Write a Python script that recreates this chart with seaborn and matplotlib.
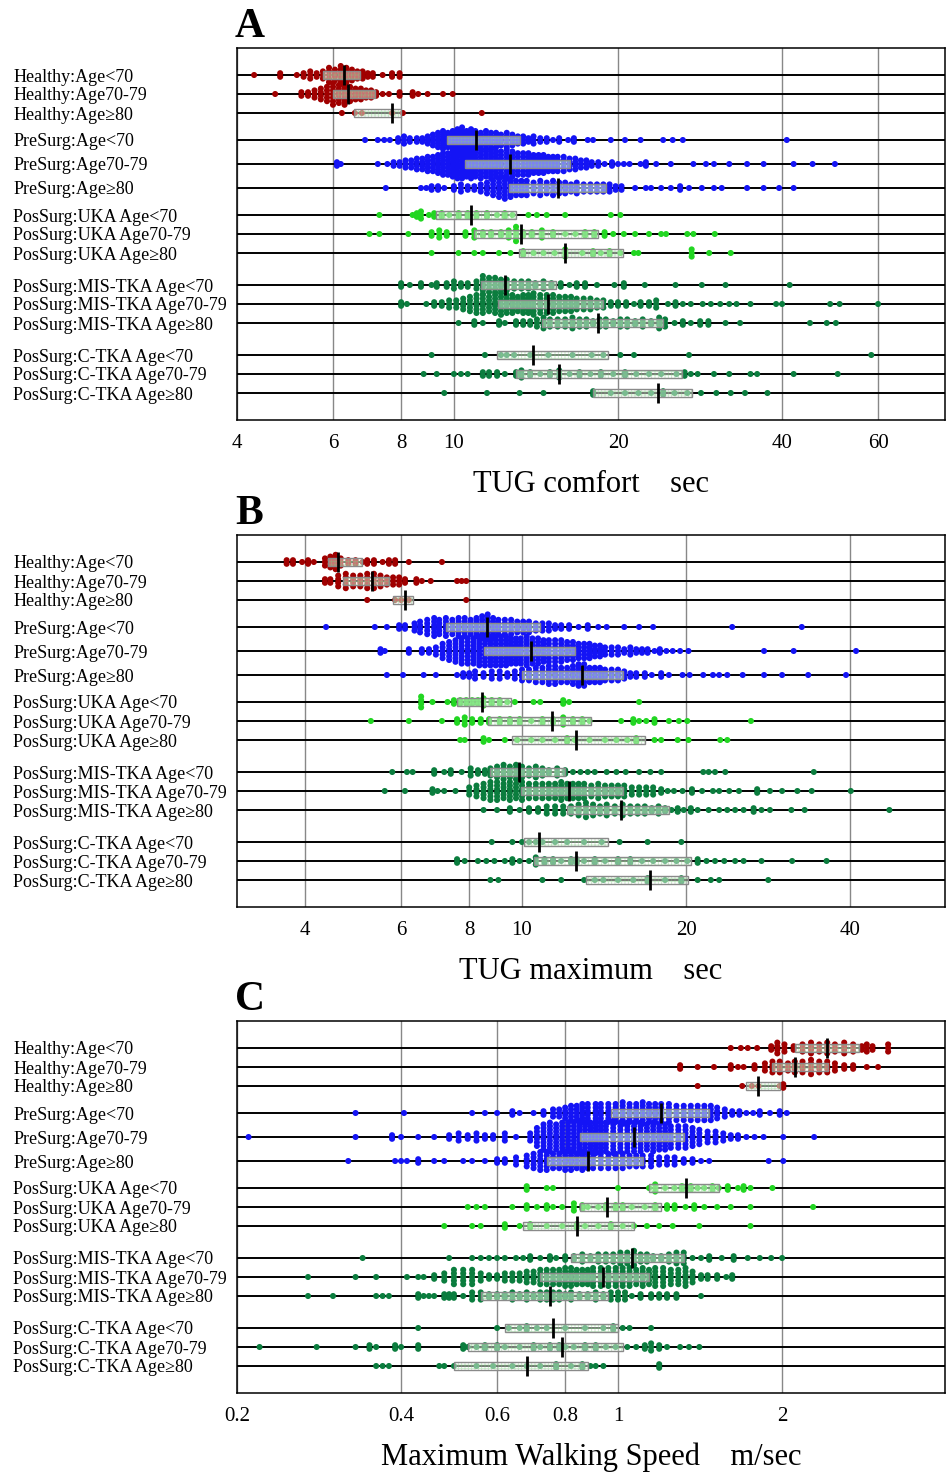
import numpy as np
import pandas as pd
import matplotlib
matplotlib.use("Agg")
import matplotlib.pyplot as plt
import seaborn as sns
from matplotlib.ticker import FixedLocator, FixedFormatter, NullLocator

ROW_LABELS = [
    "Healthy:Age<70", "Healthy:Age70-79", "Healthy:Age\u226580",
    "PreSurg:Age<70", "PreSurg:Age70-79", "PreSurg:Age\u226580",
    "PosSurg:UKA Age<70", "PosSurg:UKA Age70-79", "PosSurg:UKA Age\u226580",
    "PosSurg:MIS-TKA Age<70", "PosSurg:MIS-TKA Age70-79", "PosSurg:MIS-TKA Age\u226580",
    "PosSurg:C-TKA Age<70", "PosSurg:C-TKA Age70-79", "PosSurg:C-TKA Age\u226580",
]
ROW_GROUP = ["Healthy"] * 3 + ["PreSurg"] * 3 + ["UKA"] * 3 + ["MIS"] * 3 + ["CTKA"] * 3

# (value, number of subjects at that value) per row
TUG_COMFORT = [
    [(4.3, 1), (4.8, 2), (5.15, 1), (5.3, 2), (5.45, 3), (5.6, 2), (5.75, 3), (5.9, 5), (6.05, 4), (6.2, 6),
     (6.35, 5), (6.5, 4), (6.65, 3), (6.8, 3), (6.95, 2), (7.1, 2), (7.4, 1), (7.7, 2), (7.95, 2)],
    [(4.7, 1), (5.25, 2), (5.4, 2), (5.55, 3), (5.7, 4), (5.85, 5), (6.0, 7), (6.15, 6), (6.3, 7), (6.45, 5),
     (6.6, 4), (6.75, 4), (6.9, 3), (7.05, 3), (7.2, 2), (7.4, 1), (7.6, 1), (7.95, 2), (8.4, 2), (8.6, 1),
     (8.95, 1), (9.55, 1), (9.95, 1)],
    [(6.23, 1), (6.58, 1), (6.78, 1), (7.7, 1), (8.06, 1), (11.25, 1)],
    [(6.87, 1), (7.25, 1), (7.45, 1), (7.63, 1), (7.9, 2), (8.1, 3), (8.3, 2), (8.55, 2), (8.75, 2), (8.95, 3),
     (9.15, 4), (9.35, 5), (9.55, 6), (9.75, 5), (9.95, 6), (10.15, 7), (10.35, 8), (10.55, 6), (10.75, 7),
     (10.95, 6), (11.2, 5), (11.45, 6), (11.7, 5), (11.95, 5), (12.2, 4), (12.5, 5), (12.8, 4), (13.1, 3),
     (13.4, 3), (13.7, 2), (14.0, 3), (14.4, 2), (14.8, 2), (15.2, 1), (15.6, 2), (16.2, 1), (16.6, 2),
     (17.6, 1), (18.0, 1), (19.4, 1), (20.6, 1), (22.0, 1), (24.2, 1), (25.2, 1), (26.3, 1), (40.8, 1)],
    [(6.1, 2), (6.2, 1), (7.25, 1), (7.55, 1), (7.75, 2), (7.95, 2), (8.15, 3), (8.35, 3), (8.55, 4), (8.75, 4),
     (8.95, 5), (9.15, 5), (9.35, 6), (9.55, 7), (9.75, 7), (9.95, 8), (10.15, 9), (10.35, 9), (10.55, 8),
     (10.75, 9), (10.95, 8), (11.2, 9), (11.45, 8), (11.7, 9), (11.95, 8), (12.2, 8), (12.5, 9), (12.8, 8),
     (13.1, 7), (13.4, 7), (13.7, 7), (14.0, 6), (14.3, 6), (14.6, 6), (14.9, 5), (15.2, 5), (15.5, 5),
     (15.9, 5), (16.3, 4), (16.7, 4), (17.1, 3), (17.5, 3), (17.9, 2), (18.4, 2), (18.9, 1), (19.5, 2),
     (20.0, 1), (20.5, 1), (21.0, 1), (22.0, 1), (22.5, 2), (23.5, 1), (25.0, 1), (27.5, 1), (29.0, 1),
     (30.0, 1), (32.0, 1), (34.5, 1), (37.0, 1), (42.0, 1), (45.5, 1), (50.0, 1)],
    [(7.5, 1), (8.7, 1), (8.9, 1), (9.1, 2), (9.35, 2), (9.6, 1), (10.0, 2), (10.3, 3), (10.6, 2), (10.9, 2),
     (11.2, 3), (11.5, 4), (11.8, 5), (12.1, 6), (12.4, 7), (12.7, 6), (13.0, 5), (13.3, 5), (13.6, 5),
     (14.0, 4), (14.4, 5), (14.8, 4), (15.2, 5), (15.6, 4), (16.0, 4), (16.4, 3), (16.8, 4), (17.3, 3),
     (17.8, 3), (18.3, 3), (18.8, 3), (19.3, 3), (19.8, 2), (20.3, 2), (21.5, 1), (22.5, 1), (23.0, 1),
     (24.0, 1), (25.0, 1), (26.0, 2), (27.0, 1), (28.5, 1), (30.0, 1), (31.0, 1), (34.5, 1), (37.0, 1),
     (39.5, 1), (42.0, 1)],
    [(7.3, 1), (8.4, 1), (8.55, 2), (8.7, 3), (9.0, 1), (9.2, 2), (9.5, 2), (9.8, 1), (10.2, 2), (10.6, 2),
     (11.0, 2), (11.5, 2), (12.0, 1), (12.4, 2), (12.8, 1), (13.7, 1), (14.2, 1), (14.8, 1), (16.0, 1),
     (19.4, 1), (20.2, 1)],
    [(7.0, 1), (7.3, 1), (8.25, 1), (9.1, 2), (9.4, 3), (9.7, 2), (10.5, 2), (10.9, 3), (11.3, 2), (11.7, 2),
     (12.2, 2), (12.6, 3), (13.0, 5), (13.4, 2), (13.9, 2), (14.5, 3), (15.2, 2), (16.0, 1), (16.7, 1),
     (17.4, 2), (18.1, 2), (18.9, 2), (19.6, 1), (20.5, 1), (21.5, 1), (22.8, 1), (24.0, 1), (24.5, 1),
     (26.8, 1), (27.5, 1), (30.1, 1)],
    [(9.1, 1), (10.2, 1), (10.9, 1), (11.3, 1), (12.1, 1), (12.7, 1), (13.4, 2), (14.0, 1), (14.6, 1),
     (15.3, 1), (16.0, 3), (17.2, 1), (18.0, 2), (18.6, 1), (19.3, 2), (20.2, 1), (21.4, 1), (21.8, 1),
     (27.3, 3), (29.4, 1), (32.2, 1)],
    [(8.0, 2), (8.3, 1), (8.7, 2), (9.1, 1), (9.3, 2), (9.7, 2), (10.0, 3), (10.3, 2), (10.6, 2), (11.0, 3),
     (11.3, 6), (11.6, 5), (11.9, 5), (12.2, 4), (12.5, 4), (12.9, 3), (13.3, 3), (13.7, 3), (14.1, 2),
     (14.6, 3), (15.1, 2), (15.7, 2), (16.3, 1), (16.8, 2), (17.4, 2), (18.3, 1), (19.7, 1), (20.5, 2),
     (22.4, 1), (25.5, 1), (28.5, 1), (31.5, 1), (41.3, 1)],
    [(8.0, 2), (8.2, 1), (8.9, 1), (9.2, 2), (9.5, 2), (9.8, 3), (10.1, 3), (10.4, 4), (10.7, 5), (11.0, 6),
     (11.3, 6), (11.6, 5), (11.9, 6), (12.2, 7), (12.5, 6), (12.8, 6), (13.1, 5), (13.4, 6), (13.7, 6),
     (14.0, 7), (14.4, 6), (14.8, 6), (15.2, 6), (15.6, 5), (16.0, 5), (16.4, 5), (16.8, 4), (17.3, 4),
     (17.8, 4), (18.3, 3), (18.8, 3), (19.4, 2), (20.0, 2), (20.7, 2), (21.4, 1), (22.0, 2), (22.8, 2),
     (23.5, 3), (24.7, 1), (25.5, 2), (26.3, 1), (27.2, 1), (28.6, 1), (29.6, 1), (30.8, 1), (32.0, 1),
     (33.0, 1), (35.0, 1), (39.0, 1), (40.0, 1), (49.0, 1), (51.0, 1), (60.0, 1)],
    [(10.2, 1), (10.9, 2), (11.3, 1), (12.1, 2), (12.4, 1), (13.0, 2), (13.4, 2), (13.8, 2), (14.2, 3),
     (14.6, 4), (15.0, 3), (15.5, 3), (16.0, 3), (16.5, 4), (17.0, 3), (17.5, 3), (18.0, 2), (18.5, 3),
     (19.0, 3), (19.6, 2), (20.2, 3), (20.8, 3), (21.5, 2), (22.2, 3), (23.0, 2), (23.8, 4), (24.4, 3),
     (25.4, 1), (26.3, 2), (27.2, 1), (28.3, 2), (29.3, 2), (31.5, 1), (33.5, 1), (45.0, 1), (48.3, 1),
     (50.2, 1)],
    [(9.1, 1), (11.4, 1), (12.2, 1), (12.5, 1), (12.9, 1), (13.8, 1), (14.9, 1), (16.5, 1), (17.9, 1),
     (18.8, 1), (20.2, 1), (21.4, 1), (27.0, 1), (58.3, 1)],
    [(8.8, 1), (9.3, 1), (10.0, 1), (10.3, 1), (10.6, 1), (11.3, 2), (11.6, 2), (12.0, 2), (12.4, 1), (13.0, 2),
     (13.3, 3), (13.8, 2), (14.4, 1), (15.0, 2), (15.6, 3), (16.3, 1), (17.0, 2), (17.8, 1), (18.6, 2),
     (19.6, 1), (20.6, 2), (21.6, 1), (22.8, 1), (24.0, 1), (25.6, 1), (26.5, 2), (27.2, 1), (28.0, 1),
     (30.0, 1), (32.0, 1), (35.0, 1), (36.0, 1), (42.0, 1), (50.6, 1)],
    [(9.6, 1), (11.5, 1), (13.2, 1), (14.6, 1), (18.0, 2), (19.4, 1), (20.6, 1), (21.8, 1), (23.0, 1),
     (24.2, 2), (25.4, 1), (26.8, 1), (28.4, 1), (30.3, 1), (32.2, 1), (34.2, 1), (37.6, 1)],
]
TUG_COMFORT_Q1 = [5.75, 6.0, 6.55, 9.7, 10.5, 12.6, 9.27, 10.9, 13.15, 11.2, 12.04, 14.5, 12.0, 13.0, 18.0]
TUG_COMFORT_MED = [6.28, 6.39, 7.7, 11.0, 12.67, 15.5, 10.76, 13.3, 16.0, 12.4, 14.9, 18.4, 13.95, 15.6, 23.7]
TUG_COMFORT_Q3 = [6.72, 7.16, 7.99, 13.2, 16.3, 19.0, 13.0, 18.4, 20.4, 15.4, 18.8, 24.2, 19.2, 26.2, 27.3]

TUG_MAX = [
    [(3.7, 2), (3.8, 2), (3.95, 1), (4.05, 2), (4.15, 1), (4.35, 3), (4.45, 4), (4.55, 5), (4.65, 3), (4.8, 2),
     (4.95, 2), (5.1, 1), (5.2, 2), (5.35, 2), (5.55, 1), (5.7, 2), (5.85, 2), (6.2, 1), (7.13, 1)],
    [(4.35, 2), (4.45, 2), (4.6, 4), (4.75, 5), (4.9, 4), (5.05, 4), (5.2, 5), (5.35, 5), (5.5, 4), (5.65, 3),
     (5.8, 3), (5.95, 3), (6.1, 2), (6.4, 2), (6.55, 1), (6.8, 1), (7.6, 1), (7.75, 1), (7.9, 1)],
    [(5.2, 1), (5.85, 1), (6.0, 1), (6.2, 1), (7.9, 1)],
    [(4.37, 1), (5.37, 1), (5.65, 1), (5.95, 2), (6.1, 2), (6.35, 3), (6.5, 4), (6.7, 5), (6.9, 6), (7.05, 5),
     (7.25, 6), (7.45, 5), (7.65, 6), (7.85, 6), (8.05, 5), (8.25, 6), (8.45, 7), (8.65, 8), (8.85, 6),
     (9.05, 5), (9.3, 5), (9.55, 5), (9.8, 4), (10.05, 4), (10.3, 4), (10.6, 3), (10.9, 3), (11.2, 3),
     (11.5, 2), (11.8, 2), (12.2, 2), (12.7, 1), (13.2, 2), (13.8, 1), (14.3, 1), (15.4, 1), (16.4, 1),
     (17.4, 1), (24.3, 1), (32.6, 1)],
    [(5.5, 2), (5.6, 1), (6.2, 2), (6.55, 2), (6.75, 2), (6.95, 3), (7.15, 5), (7.35, 6), (7.55, 7), (7.75, 8),
     (7.95, 8), (8.15, 8), (8.35, 9), (8.55, 9), (8.75, 9), (8.95, 9), (9.15, 9), (9.35, 9), (9.55, 8),
     (9.75, 8), (9.95, 8), (10.2, 9), (10.45, 8), (10.7, 8), (10.95, 7), (11.2, 7), (11.5, 7), (11.8, 7),
     (12.1, 6), (12.4, 6), (12.7, 5), (13.0, 5), (13.3, 5), (13.6, 4), (13.9, 4), (14.2, 3), (14.6, 3),
     (15.0, 3), (15.4, 2), (15.8, 3), (16.2, 2), (16.6, 2), (17.0, 2), (17.5, 1), (17.9, 2), (18.4, 1),
     (18.9, 1), (19.5, 1), (20.2, 1), (27.8, 1), (31.5, 1), (41.0, 1)],
    [(5.65, 1), (6.05, 1), (6.6, 1), (6.95, 1), (7.6, 1), (7.8, 2), (8.0, 2), (8.2, 3), (8.5, 2), (8.8, 3),
     (9.1, 3), (9.4, 2), (9.7, 3), (10.0, 4), (10.3, 4), (10.6, 5), (10.9, 5), (11.2, 6), (11.5, 6), (11.8, 5),
     (12.1, 5), (12.4, 6), (12.7, 7), (13.0, 7), (13.3, 5), (13.6, 5), (13.9, 5), (14.2, 4), (14.6, 4),
     (15.0, 4), (15.4, 3), (15.8, 2), (16.2, 2), (16.8, 2), (17.3, 1), (18.0, 2), (18.6, 1), (19.7, 1),
     (20.3, 1), (21.5, 1), (22.4, 1), (23.0, 1), (23.8, 1), (25.4, 1), (27.8, 1), (30.0, 1), (33.5, 1),
     (39.3, 1)],
    [(6.53, 4), (6.85, 1), (7.3, 1), (7.5, 2), (7.7, 2), (7.9, 2), (8.1, 2), (8.3, 2), (8.5, 3), (8.8, 2),
     (9.1, 2), (9.4, 1), (9.7, 1), (10.5, 1), (10.8, 1), (11.9, 2), (12.2, 1), (16.4, 1)],
    [(5.28, 1), (6.2, 1), (7.13, 1), (7.6, 2), (7.85, 3), (8.1, 2), (8.4, 2), (8.7, 2), (9.1, 2), (9.5, 2),
     (9.9, 2), (10.4, 1), (10.9, 2), (11.4, 2), (11.9, 3), (12.4, 2), (12.9, 2), (13.3, 1), (15.2, 1),
     (16.0, 2), (16.4, 1), (16.9, 1), (17.5, 2), (18.6, 1), (19.4, 1), (20.1, 1), (26.3, 1)],
    [(7.7, 1), (7.85, 1), (8.5, 2), (8.7, 1), (9.3, 1), (9.8, 1), (10.4, 1), (10.9, 1), (11.5, 1), (12.1, 2),
     (12.5, 1), (13.3, 1), (14.2, 1), (14.9, 1), (15.6, 1), (16.2, 2), (17.5, 1), (18.0, 1), (19.3, 1),
     (20.2, 1), (23.1, 1), (23.8, 1)],
    [(5.78, 1), (6.15, 1), (6.3, 1), (6.9, 2), (7.2, 1), (7.4, 2), (7.75, 1), (8.05, 3), (8.3, 2), (8.55, 2),
     (8.75, 3), (9.0, 4), (9.25, 5), (9.5, 4), (9.75, 5), (10.0, 4), (10.3, 3), (10.6, 4), (10.9, 3),
     (11.2, 2), (11.6, 3), (12.0, 2), (12.4, 1), (12.8, 1), (13.2, 1), (13.6, 1), (14.3, 1), (14.9, 1),
     (15.5, 1), (16.4, 1), (17.2, 1), (18.0, 1), (21.5, 1), (22.0, 1), (22.6, 1), (23.6, 1), (34.3, 1)],
    [(5.6, 1), (6.1, 1), (6.85, 2), (7.0, 1), (7.2, 1), (7.55, 1), (8.0, 3), (8.25, 4), (8.5, 5), (8.75, 6),
     (9.0, 6), (9.25, 5), (9.5, 6), (9.75, 5), (10.0, 6), (10.3, 5), (10.6, 5), (10.9, 5), (11.2, 5),
     (11.5, 5), (11.8, 6), (12.1, 5), (12.4, 5), (12.7, 5), (13.0, 5), (13.4, 4), (13.8, 5), (14.2, 4),
     (14.6, 4), (15.0, 4), (15.4, 4), (15.9, 3), (16.4, 3), (16.9, 3), (17.4, 3), (18.0, 2), (18.5, 1),
     (19.0, 1), (19.7, 1), (20.5, 2), (21.4, 1), (22.4, 1), (23.0, 1), (24.0, 1), (25.0, 1), (27.0, 2),
     (28.5, 1), (30.0, 1), (32.0, 1), (34.0, 1), (40.1, 1)],
    [(8.5, 1), (9.0, 1), (9.5, 2), (9.9, 1), (10.3, 2), (10.7, 2), (11.1, 3), (11.5, 3), (11.9, 3), (12.3, 3),
     (12.7, 4), (13.1, 5), (13.5, 4), (13.9, 3), (14.3, 4), (14.8, 3), (15.3, 4), (15.8, 3), (16.3, 3),
     (16.8, 3), (17.3, 2), (17.8, 3), (18.3, 2), (18.8, 1), (19.3, 2), (19.8, 1), (20.4, 2), (21.0, 1),
     (22.0, 1), (23.0, 1), (23.8, 1), (24.6, 1), (25.5, 1), (26.6, 2), (27.5, 1), (28.5, 1), (31.2, 1),
     (33.0, 1), (47.2, 1)],
    [(8.8, 1), (9.6, 1), (10.0, 1), (10.3, 1), (10.6, 1), (10.9, 1), (11.5, 1), (12.1, 1), (13.0, 1),
     (14.0, 1), (15.1, 1), (17.0, 1), (19.6, 1)],
    [(7.6, 2), (7.85, 1), (8.3, 1), (8.6, 1), (8.9, 1), (9.3, 1), (9.6, 2), (9.9, 1), (10.3, 1), (10.6, 3),
     (11.0, 2), (11.4, 2), (11.8, 1), (12.3, 2), (12.6, 2), (13.0, 1), (13.6, 2), (14.2, 1), (15.0, 2),
     (15.8, 2), (16.6, 1), (17.4, 1), (18.3, 1), (19.2, 1), (20.1, 1), (21.0, 2), (21.8, 1), (22.6, 1),
     (23.5, 1), (24.6, 1), (25.5, 1), (27.5, 1), (31.3, 1), (36.2, 1)],
    [(8.75, 1), (9.05, 1), (10.9, 1), (11.8, 1), (13.0, 1), (13.6, 1), (14.1, 1), (15.0, 1), (16.0, 1),
     (17.0, 2), (18.3, 1), (19.6, 2), (21.0, 1), (22.2, 1), (23.0, 1), (28.3, 1)],
]
TUG_MAX_Q1 = [4.4, 4.69, 5.8, 7.25, 8.5, 10.0, 7.6, 8.66, 9.6, 8.75, 9.97, 12.1, 10.1, 10.5, 13.1]
TUG_MAX_MED = [4.6, 5.31, 6.1, 8.63, 10.4, 12.9, 8.45, 11.35, 12.56, 9.87, 12.2, 15.2, 10.75, 12.56, 17.2]
TUG_MAX_Q3 = [5.09, 5.7, 6.3, 10.8, 12.5, 15.3, 9.55, 13.4, 16.8, 12.0, 15.3, 18.6, 14.4, 20.4, 20.2]

WALK_SPEED = [
    [(1.61, 1), (1.68, 1), (1.73, 1), (1.8, 1), (1.91, 2), (1.96, 4), (2.02, 3), (2.1, 2), (2.18, 3), (2.26, 4),
     (2.34, 3), (2.42, 4), (2.5, 3), (2.6, 4), (2.7, 3), (2.8, 2), (2.86, 3), (2.93, 2), (3.13, 3)],
    [(1.30, 2), (1.40, 1), (1.50, 1), (1.61, 2), (1.66, 1), (1.70, 1), (1.78, 2), (1.86, 3), (1.92, 4),
     (1.98, 4), (2.05, 3), (2.11, 4), (2.18, 4), (2.26, 5), (2.34, 4), (2.42, 4), (2.5, 3), (2.6, 2),
     (2.7, 2), (2.86, 1), (3.0, 1)],
    [(1.40, 1), (1.69, 1), (1.76, 1), (1.81, 1), (1.98, 1), (2.01, 2)],
    [(0.33, 1), (0.405, 1), (0.54, 1), (0.57, 1), (0.60, 1), (0.64, 2), (0.66, 1), (0.70, 1), (0.73, 2),
     (0.76, 3), (0.78, 3), (0.80, 4), (0.82, 5), (0.84, 5), (0.86, 6), (0.88, 6), (0.91, 6), (0.93, 6),
     (0.96, 6), (0.99, 6), (1.02, 7), (1.05, 6), (1.08, 6), (1.11, 7), (1.14, 6), (1.17, 6), (1.20, 6),
     (1.24, 6), (1.28, 5), (1.32, 5), (1.36, 5), (1.40, 5), (1.44, 5), (1.48, 5), (1.52, 4), (1.57, 3),
     (1.62, 2), (1.67, 2), (1.72, 1), (1.77, 1), (1.82, 2), (1.9, 1), (1.98, 2), (2.04, 1)],
    [(0.21, 1), (0.33, 1), (0.385, 2), (0.40, 1), (0.43, 1), (0.46, 1), (0.49, 2), (0.51, 3), (0.53, 2),
     (0.55, 3), (0.57, 2), (0.59, 2), (0.62, 3), (0.65, 1), (0.69, 3), (0.71, 6), (0.73, 8), (0.75, 9),
     (0.77, 8), (0.79, 9), (0.81, 9), (0.83, 9), (0.85, 10), (0.87, 9), (0.89, 9), (0.91, 10), (0.93, 9),
     (0.95, 9), (0.98, 10), (1.01, 9), (1.04, 9), (1.07, 9), (1.10, 9), (1.13, 8), (1.16, 9), (1.19, 8),
     (1.22, 8), (1.25, 7), (1.29, 7), (1.33, 7), (1.37, 6), (1.41, 5), (1.46, 4), (1.51, 4), (1.56, 3),
     (1.61, 2), (1.66, 2), (1.72, 1), (1.78, 1), (1.85, 1), (2.01, 1), (2.29, 1)],
    [(0.32, 1), (0.39, 1), (0.40, 1), (0.41, 1), (0.43, 2), (0.46, 1), (0.48, 1), (0.52, 1), (0.54, 1),
     (0.57, 1), (0.60, 2), (0.62, 2), (0.65, 3), (0.68, 4), (0.70, 5), (0.72, 6), (0.74, 6), (0.76, 5),
     (0.78, 5), (0.80, 6), (0.82, 6), (0.84, 5), (0.86, 6), (0.88, 5), (0.90, 5), (0.93, 5), (0.96, 5),
     (0.99, 5), (1.02, 5), (1.05, 4), (1.08, 4), (1.11, 4), (1.15, 4), (1.19, 3), (1.23, 3), (1.27, 3),
     (1.32, 2), (1.37, 2), (1.42, 1), (1.47, 1), (1.89, 1), (2.01, 1)],
    [(0.68, 2), (0.74, 1), (0.76, 1), (1.0, 1), (1.14, 1), (1.17, 3), (1.22, 1), (1.27, 1), (1.31, 2),
     (1.36, 2), (1.40, 1), (1.44, 1), (1.49, 2), (1.53, 1), (1.59, 2), (1.66, 1), (1.70, 2), (1.75, 1),
     (1.92, 1)],
    [(0.53, 1), (0.55, 1), (0.57, 1), (0.64, 1), (0.68, 2), (0.71, 1), (0.74, 2), (0.76, 1), (0.79, 1),
     (0.83, 3), (0.86, 2), (0.88, 1), (0.92, 1), (0.95, 2), (0.99, 2), (1.02, 2), (1.06, 1), (1.12, 1),
     (1.17, 2), (1.23, 2), (1.27, 2), (1.33, 1), (1.38, 2), (1.44, 1), (1.52, 1), (1.61, 1), (1.75, 1),
     (2.28, 1)],
    [(0.48, 1), (0.54, 1), (0.56, 1), (0.62, 2), (0.66, 1), (0.69, 2), (0.74, 1), (0.79, 1), (0.84, 2),
     (0.87, 1), (0.92, 1), (0.97, 2), (1.02, 1), (1.07, 1), (1.13, 1), (1.19, 1), (1.26, 1), (1.41, 1),
     (1.75, 1)],
    [(0.34, 1), (0.49, 1), (0.54, 1), (0.56, 1), (0.58, 1), (0.60, 1), (0.62, 1), (0.65, 1), (0.67, 1),
     (0.69, 2), (0.72, 1), (0.75, 2), (0.77, 1), (0.80, 2), (0.83, 2), (0.86, 3), (0.89, 2), (0.92, 3),
     (0.95, 3), (0.98, 3), (1.01, 4), (1.04, 4), (1.07, 5), (1.10, 3), (1.13, 3), (1.16, 2), (1.20, 2),
     (1.24, 3), (1.28, 4), (1.32, 4), (1.37, 1), (1.42, 1), (1.47, 2), (1.55, 1), (1.63, 2), (1.73, 1),
     (1.82, 1), (1.91, 1), (2.0, 1)],
    [(0.27, 1), (0.33, 1), (0.36, 1), (0.41, 1), (0.43, 1), (0.44, 1), (0.46, 2), (0.48, 3), (0.50, 5),
     (0.52, 5), (0.54, 5), (0.56, 3), (0.58, 2), (0.60, 2), (0.62, 3), (0.64, 3), (0.66, 3), (0.68, 4),
     (0.70, 4), (0.72, 5), (0.74, 5), (0.76, 5), (0.78, 5), (0.80, 6), (0.82, 6), (0.84, 5), (0.86, 5),
     (0.88, 5), (0.90, 6), (0.93, 6), (0.96, 6), (0.99, 6), (1.02, 6), (1.05, 6), (1.08, 5), (1.11, 6),
     (1.14, 5), (1.17, 6), (1.21, 6), (1.25, 5), (1.29, 5), (1.33, 6), (1.37, 4), (1.42, 2), (1.46, 2),
     (1.52, 2), (1.58, 1), (1.62, 2)],
    [(0.27, 1), (0.30, 1), (0.36, 1), (0.37, 1), (0.38, 1), (0.43, 2), (0.44, 1), (0.45, 1), (0.46, 1),
     (0.48, 2), (0.49, 2), (0.50, 2), (0.52, 1), (0.54, 3), (0.56, 3), (0.58, 2), (0.60, 2), (0.62, 2),
     (0.64, 3), (0.66, 2), (0.68, 3), (0.70, 2), (0.72, 3), (0.74, 3), (0.76, 3), (0.78, 3), (0.80, 2),
     (0.82, 3), (0.85, 2), (0.88, 2), (0.91, 3), (0.94, 2), (0.97, 3), (1.00, 3), (1.03, 3), (1.06, 1),
     (1.10, 2), (1.15, 2), (1.19, 2), (1.23, 2), (1.28, 2), (1.42, 1)],
    [(0.43, 1), (0.60, 1), (0.63, 1), (0.66, 1), (0.68, 2), (0.71, 1), (0.74, 1), (0.80, 1), (0.87, 1),
     (0.94, 1), (0.98, 2), (1.02, 1), (1.05, 1), (1.15, 1)],
    [(0.22, 1), (0.28, 1), (0.33, 1), (0.35, 2), (0.36, 1), (0.39, 2), (0.40, 1), (0.43, 2), (0.52, 2),
     (0.53, 1), (0.55, 1), (0.57, 2), (0.60, 2), (0.62, 1), (0.66, 1), (0.70, 2), (0.72, 1), (0.75, 2),
     (0.78, 2), (0.80, 1), (0.83, 1), (0.87, 2), (0.91, 2), (0.95, 1), (0.99, 1), (1.04, 1), (1.08, 1),
     (1.12, 2), (1.15, 3), (1.19, 2), (1.23, 1), (1.30, 1), (1.35, 1), (1.41, 1)],
    [(0.36, 1), (0.37, 1), (0.38, 1), (0.47, 1), (0.48, 1), (0.50, 1), (0.55, 1), (0.59, 1), (0.64, 1),
     (0.68, 1), (0.72, 1), (0.77, 2), (0.82, 1), (0.86, 2), (0.89, 1), (0.91, 1), (0.94, 1), (1.19, 2)],
]
WALK_SPEED_Q1 = [2.11, 1.92, 1.72, 0.97, 0.85, 0.74, 1.14, 0.85, 0.67, 0.82, 0.72, 0.56, 0.62, 0.53, 0.50]
WALK_SPEED_MED = [2.42, 2.11, 1.81, 1.20, 1.07, 0.88, 1.33, 0.955, 0.84, 1.06, 0.94, 0.75, 0.76, 0.79, 0.68]
WALK_SPEED_Q3 = [2.77, 2.43, 1.98, 1.47, 1.32, 1.11, 1.53, 1.20, 1.07, 1.32, 1.14, 0.96, 1.00, 1.02, 0.88]

COLORS = {"Healthy": "#a00000", "PreSurg": "#1414f5", "UKA": "#22d622", "MIS": "#0b7d3e", "CTKA": "#0b7d3e"}
SERIF = ["Liberation Serif", "DejaVu Serif"]

# vertical layout of the rows, in pixels of the axes
ROW_STEPS = [0, 19, 19, 27, 24, 24, 27, 19, 19, 32, 19, 19, 32, 19, 19]
ROW_Y = np.cumsum(ROW_STEPS)
COL_W = 4.4 / 545.0   # one dot column, in decades
DOT_STEP = 3.6


def build_frame(rows):
    recs = []
    for i, pairs in enumerate(rows):
        vals = np.repeat([p[0] for p in pairs], [p[1] for p in pairs])
        cols = np.round(np.log10(vals) / COL_W).astype(int)
        for c in np.unique(cols):
            members = vals[cols == c]
            n = len(members)
            for k, v in enumerate(members):
                recs.append((v, ROW_Y[i] + (k - (n - 1) / 2) * DOT_STEP, ROW_GROUP[i]))
    return pd.DataFrame(recs, columns=["value", "ypos", "group"])


def draw_panel(ax, rows, q1, med, q3, xlim, ticks, tlabels, xlabel):
    df = build_frame(rows)
    ax.set_xscale("log")
    for y in ROW_Y:
        ax.axhline(y, color="black", lw=1.4, zorder=1)
    sns.scatterplot(data=df, x="value", y="ypos", hue="group", palette=COLORS,
                    s=19, linewidth=0, legend=False, ax=ax, zorder=2)
    q1, med, q3 = np.array(q1), np.array(med), np.array(q3)
    ax.barh(ROW_Y, q3 - q1, left=q1, height=8, color="white", alpha=0.45,
            hatch="+++++", edgecolor="#80cc80", linewidth=0, zorder=3)
    ax.barh(ROW_Y, q3 - q1, left=q1, height=8, fill=False,
            edgecolor="#8a8a8a", linewidth=1.0, zorder=3.5)
    ax.vlines(med, ROW_Y - 10, ROW_Y + 10, color="black", lw=2, zorder=4)

    ax.set_xlim(*xlim)
    ax.set_ylim(ROW_Y[-1] + 27, ROW_Y[0] - 27)
    ax.xaxis.set_major_locator(FixedLocator(ticks))
    ax.xaxis.set_major_formatter(FixedFormatter(tlabels))
    ax.xaxis.set_minor_locator(NullLocator())
    ax.grid(axis="x", color="#888888", lw=1, zorder=0)
    ax.grid(axis="y", visible=False)
    ax.set_axisbelow(True)
    ax.tick_params(axis="x", length=6, width=1, direction="out", pad=4, labelsize=15,
                   color="black", labelcolor="black")
    for lab in ax.get_xticklabels():
        lab.set_family(SERIF)
    ax.set_yticks(ROW_Y)
    ax.set_yticklabels(ROW_LABELS, family=SERIF, fontsize=13, ha="left", color="black")
    ax.tick_params(axis="y", length=0, pad=161)
    ax.set_xlabel(xlabel, family=SERIF, fontsize=22, labelpad=12, color="black")
    ax.set_ylabel("")
    for sp in ax.spines.values():
        sp.set_visible(True)
        sp.set_color("black")
        sp.set_linewidth(1.1)


sns.set_style("white")
plt.rcParams["hatch.linewidth"] = 0.6

fig = plt.figure(figsize=(9.49, 14.73), dpi=100)
W, H = 949.0, 1473.0
panels = [
    ("A", 48, TUG_COMFORT, TUG_COMFORT_Q1, TUG_COMFORT_MED, TUG_COMFORT_Q3, (4, 79.6),
     [4, 6, 8, 10, 20, 40, 60], ["4", "6", "8", "10", "20", "40", "60"], "TUG comfort    sec"),
    ("B", 535, TUG_MAX, TUG_MAX_Q1, TUG_MAX_MED, TUG_MAX_Q3, (3.0, 59.7),
     [4, 6, 8, 10, 20, 40], ["4", "6", "8", "10", "20", "40"], "TUG maximum    sec"),
    ("C", 1021, WALK_SPEED, WALK_SPEED_Q1, WALK_SPEED_MED, WALK_SPEED_Q3, (0.2, 3.98),
     [0.2, 0.4, 0.6, 0.8, 1, 2], ["0.2", "0.4", "0.6", "0.8", "1", "2"],
     "Maximum Walking Speed    m/sec"),
]
for letter, top, rows, q1, med, q3, xlim, ticks, tlabels, xlabel in panels:
    ax = fig.add_axes([237 / W, 1 - (top + 372) / H, 708 / W, 372 / H])
    draw_panel(ax, rows, q1, med, q3, xlim, ticks, tlabels, xlabel)
    fig.text(235 / W, 1 - (top - 11) / H, letter, family=SERIF, fontsize=30,
             fontweight="bold", color="black", ha="left", va="baseline")

fig.savefig("out.png", dpi=100)
